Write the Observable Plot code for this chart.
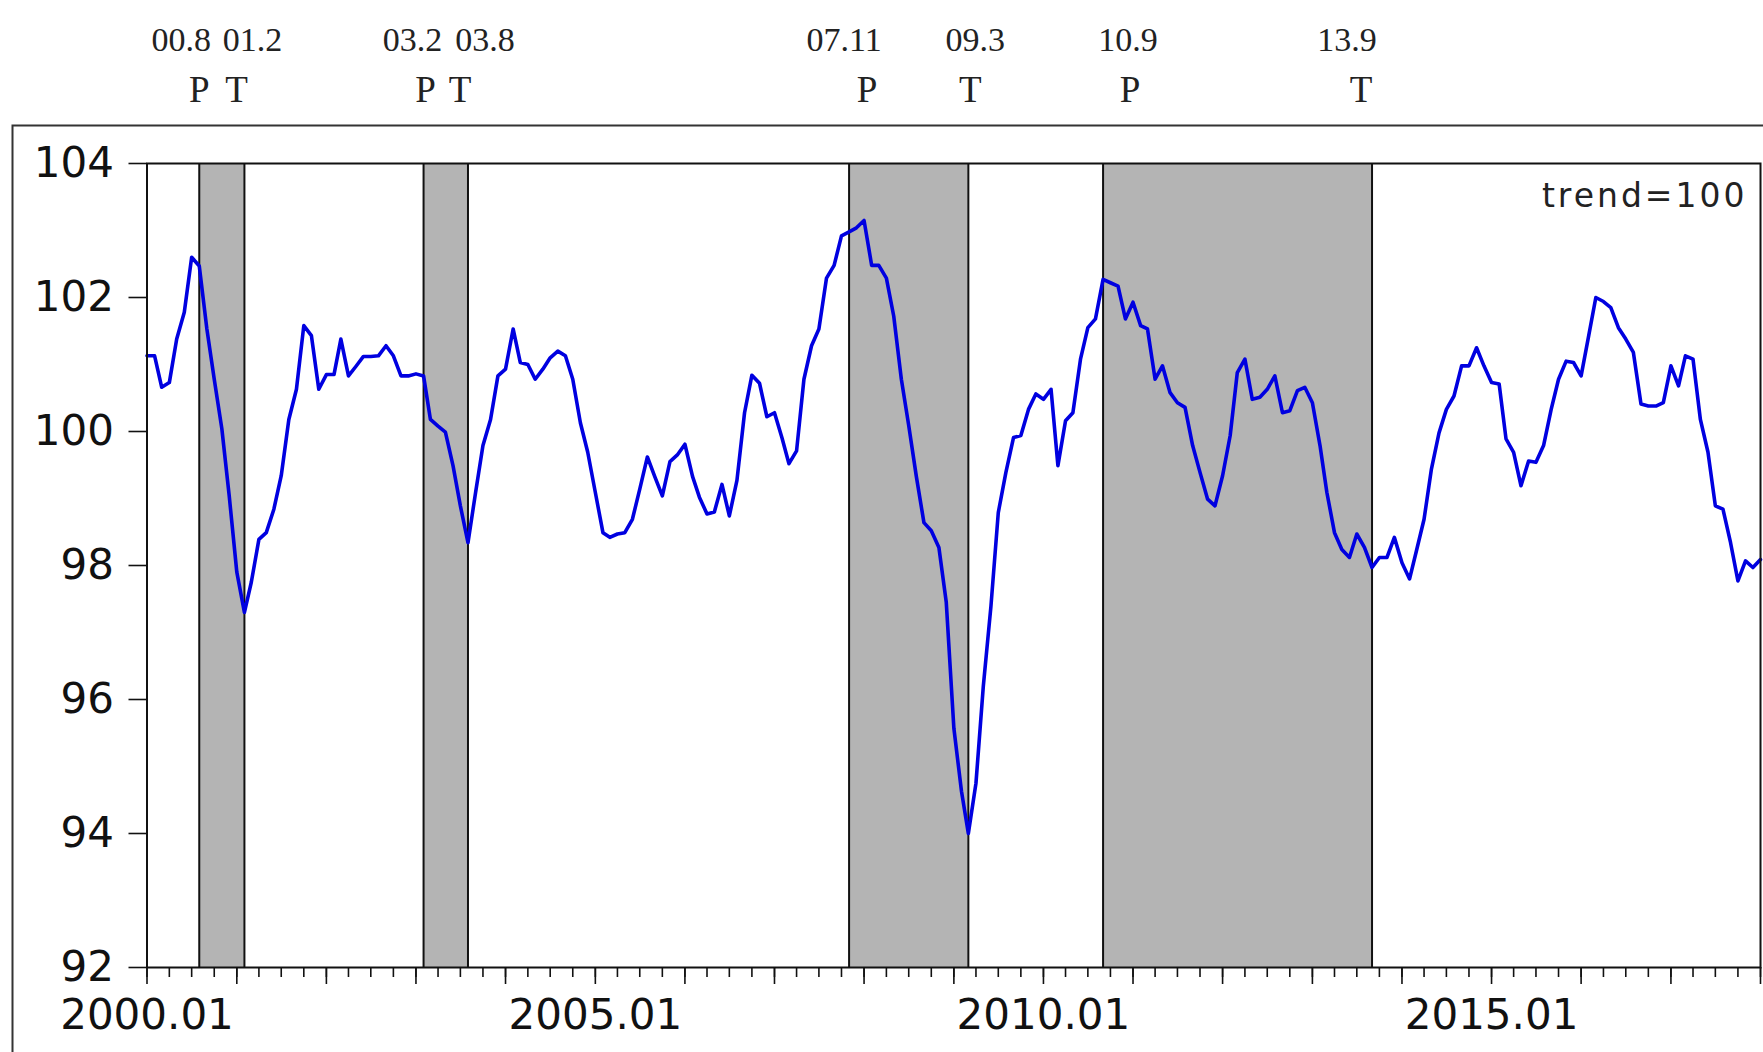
<!DOCTYPE html>
<html>
<head>
<meta charset="utf-8">
<script src="https://cdn.jsdelivr.net/npm/d3@7"></script>
<script src="https://cdn.jsdelivr.net/npm/@observablehq/plot@0.6"></script>
<style>
  html, body { margin: 0; padding: 0; background: #fff; }
  svg { display: block; }
</style>
</head>
<body>
<div id="chart"></div>
<script>
// ---- data ----
const startMonth = "2000-01";
const values = [
  101.13, 101.13, 100.66, 100.73, 101.38, 101.78, 102.60, 102.47, 101.53, 100.78, 100.04, 99.04,
  97.90, 97.30, 97.75, 98.39, 98.49, 98.84, 99.34, 100.18, 100.63, 101.58, 101.43, 100.63,
  100.85, 100.85, 101.38, 100.83, 100.97, 101.12, 101.12, 101.13, 101.28, 101.13, 100.83, 100.83,
  100.86, 100.83, 100.18, 100.08, 99.99, 99.49, 98.89, 98.34, 99.09, 99.79, 100.18, 100.83,
  100.93, 101.53, 101.03, 101.00, 100.78, 100.93, 101.10, 101.20, 101.13, 100.78, 100.13, 99.69,
  99.09, 98.49, 98.42, 98.47, 98.49, 98.69, 99.14, 99.62, 99.32, 99.04, 99.55, 99.65,
  99.81, 99.33, 99.02, 98.77, 98.80, 99.21, 98.74, 99.27, 100.28, 100.84, 100.72, 100.22,
  100.28, 99.90, 99.52, 99.71, 100.78, 101.28, 101.53, 102.29, 102.48, 102.92, 102.98, 103.04,
  103.15, 102.48, 102.48, 102.29, 101.72, 100.78, 100.09, 99.33, 98.64, 98.52, 98.27, 97.45,
  95.57, 94.63, 94.00, 94.75, 96.20, 97.39, 98.79, 99.39, 99.91, 99.94, 100.33, 100.56,
  100.48, 100.63, 99.49, 100.16, 100.28, 101.08, 101.55, 101.68, 102.27, 102.22, 102.17, 101.68,
  101.93, 101.58, 101.53, 100.78, 100.98, 100.58, 100.43, 100.36, 99.79, 99.39, 98.99, 98.89,
  99.34, 99.94, 100.88, 101.08, 100.48, 100.51, 100.63, 100.83, 100.28, 100.31, 100.61, 100.66,
  100.43, 99.79, 99.09, 98.49, 98.24, 98.12, 98.47, 98.27, 97.97, 98.12, 98.12, 98.42,
  98.04, 97.80, 98.22, 98.69, 99.44, 99.98, 100.33, 100.53, 100.98, 100.98, 101.25, 100.98,
  100.73, 100.71, 99.89, 99.69, 99.19, 99.56, 99.54, 99.79, 100.33, 100.78, 101.05, 101.03,
  100.83, 101.43, 102.00, 101.94, 101.85, 101.55, 101.38, 101.18, 100.41, 100.38, 100.38, 100.43,
  100.98, 100.68, 101.13, 101.08, 100.18, 99.69, 98.89, 98.84, 98.34, 97.77, 98.07, 97.97,
  98.09
];
const turningDates  = ["2000-08", "2001-02", "2003-02", "2003-08", "2007-11", "2009-03", "2010-09", "2013-09"];
const turningTypes  = ["P", "T", "P", "T", "P", "T", "P", "T"];
const turningLabels = ["00.8", "01.2", "03.2", "03.8", "07.11", "09.3", "10.9", "13.9"];
const yTicks = [92, 94, 96, 98, 100, 102, 104];
const xLabelDates = ["2000-01", "2005-01", "2010-01", "2015-01"];
const xTickLabels = ["2000.01", "2005.01", "2010.01", "2015.01"];
const annotation = "trend=100";

// ---- build ----
const parse = d3.utcParse("%Y-%m");
const start = parse(startMonth);
const end = d3.utcMonth.offset(start, values.length - 1);
const data = values.map((v, i) => ({date: d3.utcMonth.offset(start, i), value: v}));
const turns = turningDates.map((d, i) => ({date: parse(d), type: turningTypes[i], label: turningLabels[i]}));
const bands = d3.range(0, turns.length, 2).map(k => ({x1: turns[k].date, x2: turns[k + 1].date}));
const labelTicks = xLabelDates.map(parse);
const fmtKey = d3.utcFormat("%Y-%m");

// small typographic nudges of the header labels (as in the original figure)
const labelNudge = [-18, 8, -11, 17, -5, 7, 25, -25];
const letterNudge = [0, -8, 2, -8, 18, 2, 27, -11];

const headerMarks = turns.flatMap((t, i) => [
  Plot.text([t], {x: "date", text: "label", frameAnchor: "top", dy: -113, dx: labelNudge[i],
    lineAnchor: "bottom", fontFamily: "Liberation Serif", fontSize: 34, fill: "#222"}),
  Plot.text([t], {x: "date", text: "type", frameAnchor: "top", dy: -62, dx: letterNudge[i],
    lineAnchor: "bottom", fontFamily: "Liberation Serif", fontSize: 37, fill: "#222"})
]);

const chart = Plot.plot({
  width: 1763,
  height: 1052,
  marginLeft: 146.5,
  marginRight: 3,
  marginTop: 163,
  marginBottom: 85,
  style: {background: "#fff", fontFamily: "DejaVu Sans", color: "#111", overflow: "visible"},
  x: {type: "utc", domain: [start, end], label: null},
  y: {domain: [92, 104], label: null},
  marks: [
    Plot.frame({insetTop: -38, insetLeft: -134.5, insetRight: -8, insetBottom: -95, stroke: "#333", strokeWidth: 2}),
    Plot.rect(bands, {x1: "x1", x2: "x2", fill: "#b4b4b4"}),
    Plot.ruleX(turns, {x: "date", stroke: "#111", strokeWidth: 2}),
    Plot.line(data, {x: "date", y: "value", stroke: "#0000e0", strokeWidth: 3.6}),
    Plot.frame({stroke: "#111", strokeWidth: 2}),
    Plot.axisY({ticks: yTicks, tickSize: 18, tickPadding: 15, fontSize: 42, tickFormat: d => String(d),
      strokeWidth: 1.6, label: null}),
    Plot.axisX({ticks: d3.utcMonth.every(3).range(start, d3.utcMonth.offset(end, 1)), tickSize: 10,
      tickFormat: () => "", strokeWidth: 1.6, label: null}),
    Plot.axisX({ticks: d3.utcYear.range(start, d3.utcMonth.offset(end, 1)), tickSize: 17,
      tickFormat: () => "", strokeWidth: 1.6, label: null}),
    Plot.axisX({ticks: labelTicks, tickSize: 0, tickPadding: 32, fontSize: 42,
      tickFormat: d => xTickLabels[xLabelDates.indexOf(fmtKey(d))], label: null}),
    Plot.text([annotation], {frameAnchor: "top-right", dx: -13, dy: 20, lineAnchor: "top",
      textAnchor: "end", fontSize: 33, fontFamily: "DejaVu Sans", fill: "#222"}),
    ...headerMarks
  ]
});

d3.select(chart).selectAll("text")
  .filter(function() { return this.textContent === annotation; })
  .attr("letter-spacing", 3);

document.getElementById("chart").appendChild(chart);
</script>
</body>
</html>
